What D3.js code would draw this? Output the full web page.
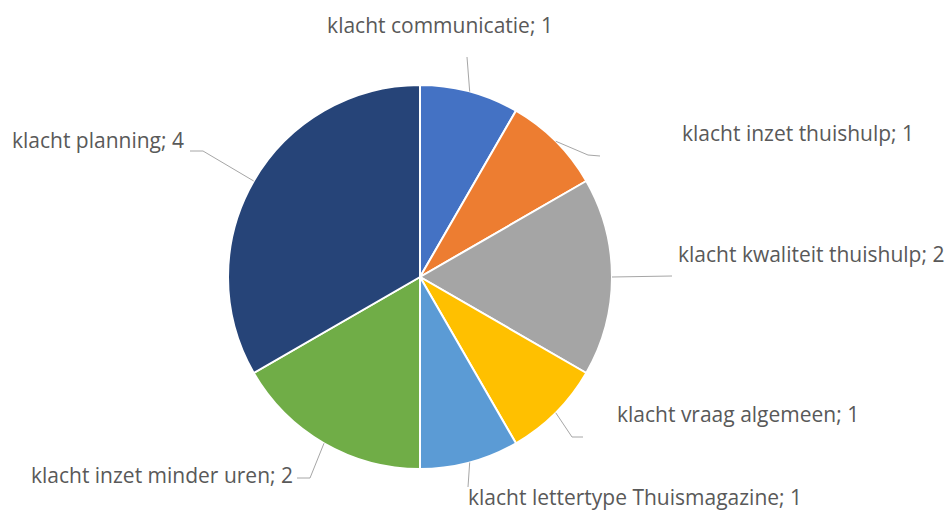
<!DOCTYPE html>
<html>
<head>
<meta charset="utf-8">
<script src="https://cdn.jsdelivr.net/npm/d3@7"></script>
<style>
  body { margin: 0; background: #fff; }
  svg { display: block; }
</style>
</head>
<body>
<script>
const categories = [
  "klacht communicatie",
  "klacht inzet thuishulp",
  "klacht kwaliteit thuishulp",
  "klacht vraag algemeen",
  "klacht lettertype Thuismagazine",
  "klacht inzet minder uren",
  "klacht planning",
];
const values = [1, 1, 2, 1, 1, 2, 4];
const colors = ["#4472c4", "#ed7d31", "#a5a5a5", "#ffc000", "#5b9bd5", "#70ad47", "#264478"];

// leader line elbows / ends and label anchors, relative to the pie centre
const labelLayout = [
  { elbow: null, end: [47, -220], text: [20, -244], anchor: "middle" },
  { elbow: [168, -122], end: [180, -121], text: [262, -136], anchor: "start" },
  { elbow: null, end: [252, -1], text: [258, -15], anchor: "start" },
  { elbow: [152, 160], end: [163, 160], text: [197, 145], anchor: "start" },
  { elbow: null, end: [48, 210], text: [48, 228], anchor: "start" },
  { elbow: [-110, 201], end: [-123, 201], text: [-127, 206], anchor: "end" },
  { elbow: [-217, -126], end: [-230, -126], text: [-236, -129], anchor: "end" },
];

const width = 950;
const height = 510;
const cx = 420;
const cy = 277;
const radius = 192;

const svg = d3
  .select("body")
  .append("svg")
  .attr("width", width)
  .attr("height", height);

const g = svg.append("g").attr("transform", `translate(${cx} ${cy})`);

const pie = d3.pie().sort(null).value((d) => d);
const arcs = pie(values);
const arc = d3.arc().innerRadius(0).outerRadius(radius);

g.selectAll("path.slice")
  .data(arcs)
  .enter()
  .append("path")
  .attr("class", "slice")
  .attr("d", arc)
  .attr("fill", (d, i) => colors[i])
  .attr("stroke", "#fff")
  .attr("stroke-width", 2);

const edgePoint = (d) => {
  const a = (d.startAngle + d.endAngle) / 2;
  return [radius * Math.sin(a), -radius * Math.cos(a)];
};

g.selectAll("polyline.leader")
  .data(arcs)
  .enter()
  .append("polyline")
  .attr("class", "leader")
  .attr("fill", "none")
  .attr("stroke", "#a6a6a6")
  .attr("stroke-width", 1)
  .attr("points", (d, i) => {
    const l = labelLayout[i];
    const pts = [edgePoint(d)];
    if (l.elbow) pts.push(l.elbow);
    pts.push(l.end);
    return pts.map((p) => p.join(",")).join(" ");
  });

g.selectAll("text.label")
  .data(arcs)
  .enter()
  .append("text")
  .attr("class", "label")
  .attr("x", (d, i) => labelLayout[i].text[0])
  .attr("y", (d, i) => labelLayout[i].text[1])
  .attr("text-anchor", (d, i) => labelLayout[i].anchor)
  .attr("font-family", "'Open Sans', sans-serif")
  .attr("font-size", 21)
  .attr("fill", "#595959")
  .text((d, i) => `${categories[i]}; ${values[i]}`);
</script>
</body>
</html>
